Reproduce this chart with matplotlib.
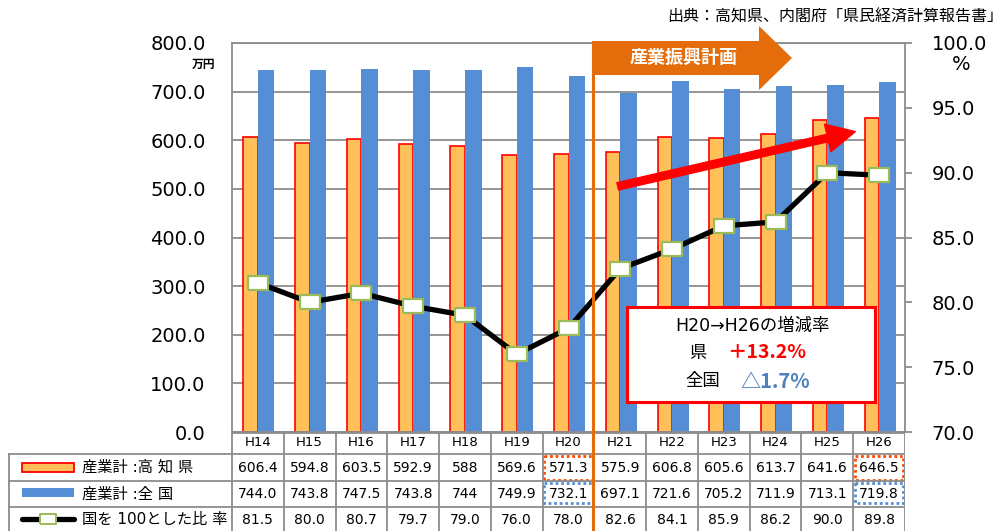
import numpy as np
import matplotlib.pyplot as plt
from matplotlib.patches import Rectangle, Polygon, FancyArrowPatch
from matplotlib.lines import Line2D

plt.rcParams['font.family'] = ['DejaVu Sans', 'Noto Sans CJK JP']

# データ
years = ['H14', 'H15', 'H16', 'H17', 'H18', 'H19', 'H20',
         'H21', 'H22', 'H23', 'H24', 'H25', 'H26']
kochi = [606.4, 594.8, 603.5, 592.9, 588, 569.6, 571.3,
         575.9, 606.8, 605.6, 613.7, 641.6, 646.5]
zenkoku = [744.0, 743.8, 747.5, 743.8, 744, 749.9, 732.1,
           697.1, 721.6, 705.2, 711.9, 713.1, 719.8]
ratio = [81.5, 80.0, 80.7, 79.7, 79.0, 76.0, 78.0,
         82.6, 84.1, 85.9, 86.2, 90.0, 89.8]
kochi_txt = ['606.4', '594.8', '603.5', '592.9', '588', '569.6', '571.3',
             '575.9', '606.8', '605.6', '613.7', '641.6', '646.5']
zenkoku_txt = ['744.0', '743.8', '747.5', '743.8', '744', '749.9', '732.1',
               '697.1', '721.6', '705.2', '711.9', '713.1', '719.8']
ratio_txt = ['81.5', '80.0', '80.7', '79.7', '79.0', '76.0', '78.0',
             '82.6', '84.1', '85.9', '86.2', '90.0', '89.8']
row_labels = ['産業計 :高 知 県', '産業計 :全 国', '国を 100とした比 率']

W, H = 1005, 531
ORANGE = '#FFC05A'
RED = '#FF0000'
BLUE = '#558ED5'
GRID = '#8C8C8C'
PLAN = '#E46C0A'


def fx(px):
    return px / W


def fy(py):
    return 1 - py / H


fig = plt.figure(figsize=(W / 100, H / 100), dpi=100)
ax = fig.add_axes([fx(232), fy(432), (905 - 232) / W, (432 - 43) / H])

x = np.arange(len(years))
ax.bar(x - 0.28, kochi, width=0.28, align='edge', color=ORANGE,
       edgecolor=RED, linewidth=1.2, zorder=2)
ax.bar(x, zenkoku, width=0.32, align='edge', color=BLUE, zorder=2)
ax.set_xlim(-0.5, 12.5)
ax.set_ylim(0, 800)
ax.set_yticks(np.arange(0, 801, 100))
ax.set_yticklabels(['%.1f' % v for v in np.arange(0, 801, 100)], fontsize=14)
ax.tick_params(axis='y', length=0, pad=19)
ax.set_xticks([])
ax.grid(axis='y', color=GRID, linewidth=1.3, zorder=0)
ax.set_axisbelow(True)
for s in ax.spines.values():
    s.set_color(GRID)
    s.set_linewidth(1.3)

ax2 = ax.twinx()
rect_marker = [(-1, -0.7), (1, -0.7), (1, 0.7), (-1, 0.7), (-1, -0.7)]
ax2.plot(x, ratio, color='black', linewidth=3.8, marker=rect_marker,
         markersize=14, markerfacecolor='white', markeredgecolor='#9BBB59',
         markeredgewidth=1.6, zorder=3)
ax2.set_ylim(70, 100)
ax2.set_yticks(np.arange(70, 101, 5))
ax2.set_yticklabels(['%.1f' % v for v in np.arange(70, 101, 5)], fontsize=14)
ax2.tick_params(axis='y', length=5, width=1.3, color=GRID, pad=14)
for s in ax2.spines.values():
    s.set_visible(False)

fig.text(fx(215), fy(64), '万円', fontsize=8.5, ha='right', va='center',
         fontweight='bold')
fig.text(fx(961), fy(64), '%', fontsize=14, ha='center', va='center')
fig.text(fx(1003), fy(17), '出典：高知県、内閣府「県民経済計算報告書」',
         fontsize=11.5, ha='right', va='center')

# 表
col_w = 673 / 13
left = -0.5 - (232 - 8) / col_w
tab = fig.add_axes([fx(8), 0, (905 - 8) / W, (531 - 432) / H])
tab.set_xlim(left, 12.5)
tab.set_ylim(99, 0)
tab.axis('off')
lc = dict(color=GRID, linewidth=1.3)
tab.plot([-0.5, 12.5], [0.5, 0.5], **lc)
for yy in [22, 49, 75]:
    tab.plot([left, 12.5], [yy, yy], **lc)
tab.plot([left + 0.01, left + 0.01], [22, 99], **lc)
for k in range(14):
    tab.plot([k - 0.5, k - 0.5], [0, 99], **lc)

for i, name in enumerate(years):
    tab.text(i, 11, name, ha='center', va='center', fontsize=9.5)
    tab.text(i, 35.5, kochi_txt[i], ha='center', va='center', fontsize=10)
    tab.text(i, 62, zenkoku_txt[i], ha='center', va='center', fontsize=10)
    tab.text(i, 87.5, ratio_txt[i], ha='center', va='center', fontsize=10)

sx0 = left + 14 / col_w
sx1 = left + 66 / col_w
tab.add_patch(Rectangle((sx0, 31), sx1 - sx0, 9, facecolor=ORANGE,
                        edgecolor=RED, linewidth=1.3))
tab.add_patch(Rectangle((sx0, 56), sx1 - sx0, 9, facecolor=BLUE,
                        edgecolor='none'))
tab.plot([sx0, sx1], [87, 87], color='black', linewidth=3.8,
         solid_capstyle='round')
tab.plot([(sx0 + sx1) / 2], [87], marker=rect_marker, markersize=11,
         markerfacecolor='white', markeredgecolor='#9BBB59',
         markeredgewidth=1.4, color='black')
tx = left + 74 / col_w
for yy, lab in zip([35.5, 62, 87.5], row_labels):
    tab.text(tx, yy, lab, ha='left', va='center', fontsize=11)

# 点線の枠
for i in [6, 12]:
    tab.add_patch(Rectangle((i - 0.5 + 0.03, 23.5), 0.94, 24, fill=False,
                            edgecolor='#FF4A00', linestyle=(0, (1, 1)),
                            linewidth=2.0))
    tab.add_patch(Rectangle((i - 0.5 + 0.03, 50.5), 0.94, 20.5, fill=False,
                            edgecolor=BLUE, linestyle=(0, (1, 1)),
                            linewidth=2.0))

# 産業振興計画の矢印
fig.add_artist(Line2D([fx(593), fx(593)], [fy(42), fy(531)], color=PLAN,
                      linewidth=2.2, zorder=5))
arrow = Polygon([(fx(592), fy(41)), (fx(759), fy(41)), (fx(759), fy(26)),
                 (fx(792), fy(58)), (fx(759), fy(90)), (fx(759), fy(75)),
                 (fx(592), fy(75))], closed=True, facecolor=PLAN,
                edgecolor='none', transform=fig.transFigure, zorder=5)
fig.add_artist(arrow)
fig.text(fx(684), fy(58), '産業振興計画', color='white', fontsize=13,
         fontweight='bold', ha='center', va='center', zorder=6)

# 赤い矢印
fig.add_artist(FancyArrowPatch((fx(615), fy(187)), (fx(858), fy(131)),
                               transform=fig.transFigure,
                               arrowstyle='simple,head_length=1.7,head_width=1.7,tail_width=0.45',
                               mutation_scale=12, color=RED, zorder=6))

# 増減率の枠
fig.add_artist(Rectangle((fx(627), fy(402)), (875 - 627) / W, (402 - 307) / H,
                         transform=fig.transFigure, facecolor='white',
                         edgecolor=RED, linewidth=2.2, zorder=7))
fig.text(fx(752), fy(326), 'H20→H26の増減率', fontsize=12.5,
         ha='center', va='center', zorder=8)
fig.text(fx(698), fy(353), '県', fontsize=12.5, ha='center', va='center',
         zorder=8)
fig.text(fx(727), fy(353), '＋13.2%', fontsize=14, fontweight='bold',
         color=RED, ha='left', va='center', zorder=8,
         family=['Noto Sans CJK JP'])
fig.text(fx(703), fy(381), '全国', fontsize=12.5, ha='center', va='center',
         zorder=8)
fig.text(fx(740), fy(381), '△1.7%', fontsize=14.5, fontweight='bold',
         color='#4F81BD', ha='left', va='center', zorder=8,
         family=['Noto Sans CJK JP'])

fig.savefig('out.png', dpi=100)
